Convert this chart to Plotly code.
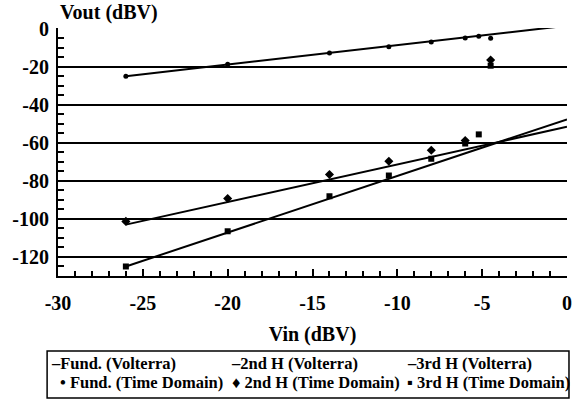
import plotly.graph_objects as go

# Volterra model lines (x endpoints, dBV)
x_line = [-26, 0]
fund_volterra = [-25, 1.5]
h2_volterra = [-103, -51.6]
h3_volterra = [-125, -47.7]

# Time-domain simulation points
x_fund_td = [-26, -20, -14, -10.5, -8, -6, -5.2, -4.5]
fund_td = [-25, -18.8, -12.8, -9.6, -7.1, -4.9, -4.1, -5.1]
x_h2_td = [-26, -20, -14, -10.5, -8, -6, -4.5]
h2_td = [-101.3, -89.3, -76.7, -69.7, -63.9, -58.8, -16.5]
x_h3_td = [-26, -20, -14, -10.5, -8, -6, -5.2, -4.5]
h3_td = [-125, -106.5, -88.1, -77.2, -68.4, -60.4, -55.6, -19.5]

x_ticks = [-30, -25, -20, -15, -10, -5, 0]
y_ticks = [-120, -100, -80, -60, -40, -20, 0]

legend_rows = [
    ["–Fund. (Volterra)", "–2nd H (Volterra)", "–3rd H (Volterra)"],
    ["• Fund. (Time Domain)", "♦ 2nd H (Time Domain)", "▪ 3rd H (Time Domain)"],
]

FONT = "Liberation Serif, Times New Roman, serif"
BLACK = "#000000"

W, H = 575, 401
ML, MR, MT, MB = 58, 3, 28, 125
PW, PH = W - ML - MR, H - MT - MB


def px_x(px):
    return (px - ML) / PW


def px_y(py):
    return (H - MB - py) / PH


fig = go.Figure()
fig.add_trace(go.Scatter(x=x_line, y=fund_volterra, mode="lines", name="Fund. (Volterra)",
                         line=dict(color=BLACK, width=2)))
fig.add_trace(go.Scatter(x=x_line, y=h2_volterra, mode="lines", name="2nd H (Volterra)",
                         line=dict(color=BLACK, width=2)))
fig.add_trace(go.Scatter(x=x_line, y=h3_volterra, mode="lines", name="3rd H (Volterra)",
                         line=dict(color=BLACK, width=2)))
fig.add_trace(go.Scatter(x=x_fund_td, y=fund_td, mode="markers", name="Fund. (Time Domain)",
                         marker=dict(color=BLACK, symbol="circle", size=5)))
fig.add_trace(go.Scatter(x=x_h2_td, y=h2_td, mode="markers", name="2nd H (Time Domain)",
                         marker=dict(color=BLACK, symbol="diamond", size=7)))
fig.add_trace(go.Scatter(x=x_h3_td, y=h3_td, mode="markers", name="3rd H (Time Domain)",
                         marker=dict(color=BLACK, symbol="square", size=6)))

annotations = [
    dict(text="Vout (dBV)", xref="paper", yref="paper", x=0, y=1, xanchor="left", yanchor="bottom",
         yshift=2, showarrow=False,
         font=dict(family=FONT, size=20, color=BLACK, weight="bold")),
]
col_x = [[49, 231, 408], [58, 232, 408]]
row_y = [363, 382.5]
for r, row in enumerate(legend_rows):
    for c, label in enumerate(row):
        annotations.append(dict(
            text=label, xref="paper", yref="paper",
            x=px_x(col_x[r][c]), y=px_y(row_y[r]),
            xanchor="left", yanchor="middle", showarrow=False,
            font=dict(family=FONT, size=16.5, color=BLACK, weight="bold"),
        ))

shapes = [
    dict(type="rect", xref="paper", yref="paper",
         x0=px_x(47), x1=px_x(574), y0=px_y(398), y1=px_y(351),
         line=dict(color=BLACK, width=1.5), fillcolor="white", layer="below"),
]

fig.update_layout(
    width=W, height=H,
    margin=dict(l=ML, r=MR, t=MT, b=MB),
    paper_bgcolor="white", plot_bgcolor="white",
    font=dict(family=FONT, color=BLACK, size=16),
    showlegend=False,
    xaxis=dict(
        range=[-30, 0],
        tickvals=x_ticks,
        ticktext=[str(v) for v in x_ticks],
        ticks="inside", ticklen=7, tickwidth=2, tickcolor=BLACK,
        minor=dict(dtick=1, ticks="inside", ticklen=5, tickwidth=2, tickcolor=BLACK, showgrid=False),
        showline=True, linecolor=BLACK, linewidth=2,
        showgrid=False, zeroline=False,
        tickfont=dict(family=FONT, size=20, color=BLACK, weight="bold"),
        ticklabelstandoff=8,
        ticklabeloverflow="allow",
        title=dict(text="Vin (dBV)", font=dict(family=FONT, size=20, color=BLACK, weight="bold"),
                   standoff=14),
    ),
    yaxis=dict(
        range=[-130, 0.3],
        tickvals=y_ticks,
        ticktext=[str(v) for v in y_ticks],
        ticks="inside", ticklen=6, tickwidth=2, tickcolor=BLACK,
        minor=dict(dtick=5, ticks="inside", ticklen=6, tickwidth=2, tickcolor=BLACK, showgrid=False),
        showline=True, linecolor=BLACK, linewidth=2,
        showgrid=True, gridcolor=BLACK, gridwidth=2,
        zeroline=False,
        tickfont=dict(family=FONT, size=20, color=BLACK, weight="bold"),
        ticklabelstandoff=3,
        ticklabeloverflow="allow",
    ),
    annotations=annotations,
    shapes=shapes,
)

fig.write_html("out.html")
